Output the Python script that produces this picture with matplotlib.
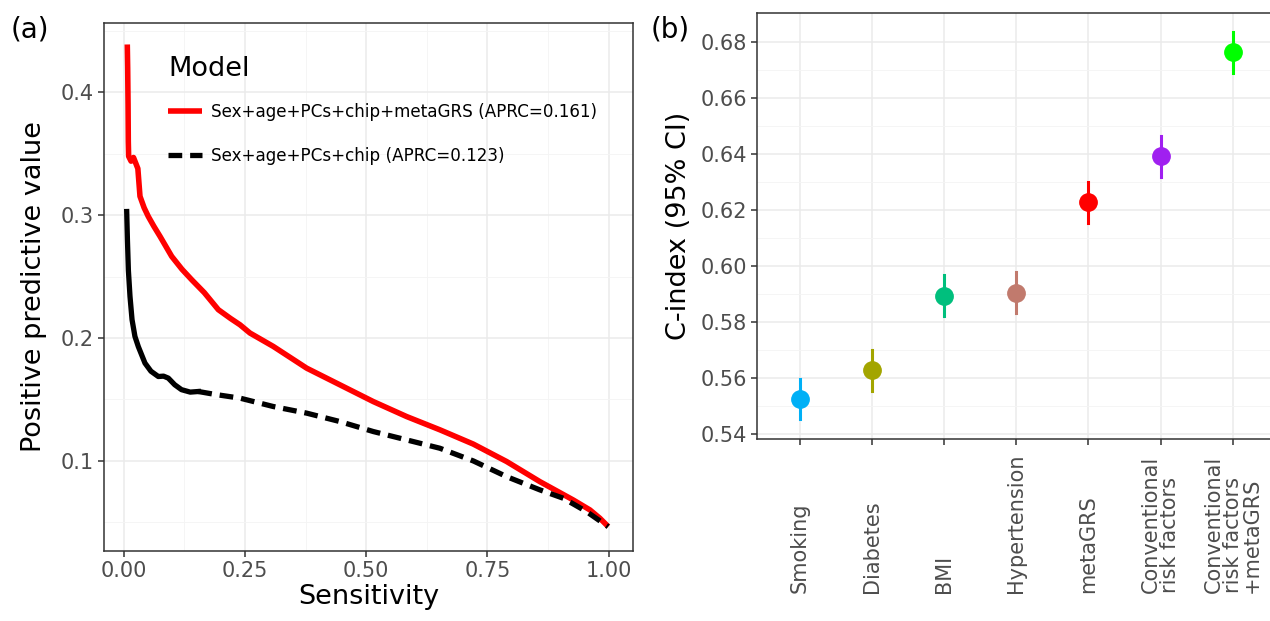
import numpy as np
import matplotlib
matplotlib.use("Agg")
import matplotlib.pyplot as plt
from matplotlib.transforms import blended_transform_factory

# (a) precision-recall curves
red_x = [0.0072, 0.0080, 0.0088, 0.0093, 0.0100, 0.0150, 0.0200, 0.0240, 0.0290,
         0.0334, 0.0420, 0.0505, 0.0620, 0.0747, 0.0988, 0.1200, 0.1400, 0.1660,
         0.1950, 0.2200, 0.2397, 0.2602, 0.3083, 0.3772, 0.4459, 0.5146, 0.5834,
         0.6520, 0.7208, 0.7896, 0.8583, 0.9270, 0.9614, 0.9820, 0.9992]
red_y = [0.4390, 0.4200, 0.3900, 0.3600, 0.3480, 0.3440, 0.3470, 0.3430, 0.3380,
         0.3154, 0.3060, 0.2990, 0.2910, 0.2828, 0.2665, 0.2560, 0.2475, 0.2370,
         0.2231, 0.2160, 0.2108, 0.2041, 0.1932, 0.1755, 0.1619, 0.1483, 0.1361,
         0.1253, 0.1137, 0.0995, 0.0831, 0.0682, 0.0601, 0.0533, 0.0465]
blk_x = [0.0060, 0.0075, 0.0095, 0.0128, 0.0170, 0.0230, 0.0300, 0.0437, 0.0560,
         0.0712, 0.0820, 0.0918, 0.1050, 0.1190, 0.1370, 0.1537, 0.1900, 0.2397,
         0.3080, 0.3770, 0.4460, 0.5146, 0.5834, 0.6520, 0.7208, 0.7896, 0.8583,
         0.9065, 0.9546, 0.9990]
blk_y = [0.3030, 0.2800, 0.2550, 0.2339, 0.2150, 0.2013, 0.1930, 0.1796, 0.1730,
         0.1687, 0.1690, 0.1674, 0.1620, 0.1580, 0.1560, 0.1565, 0.1540, 0.1511,
         0.1443, 0.1389, 0.1320, 0.1239, 0.1171, 0.1103, 0.1000, 0.0872, 0.0764,
         0.0696, 0.0587, 0.0465]
red_label = "Sex+age+PCs+chip+metaGRS (APRC=0.161)"
blk_label = "Sex+age+PCs+chip (APRC=0.123)"

# (b) C-index with 95% CI
models = ["Smoking", "Diabetes", "BMI", "Hypertension", "metaGRS",
          "Conventional\nrisk factors", "Conventional\nrisk factors\n+metaGRS"]
cidx = [0.5525, 0.5629, 0.5894, 0.5905, 0.6229, 0.6393, 0.6764]
ci_lo = [0.5454, 0.5555, 0.5822, 0.5831, 0.6156, 0.6319, 0.6690]
ci_hi = [0.5597, 0.5700, 0.5967, 0.5978, 0.6302, 0.6465, 0.6836]
colors = ["#00B0F6", "#A3A500", "#00BF7D", "#C17A6D", "#FF0000", "#A020F0", "#00FF00"]

plt.rcParams['font.family'] = ['DejaVu Sans']
tick_col = "#4D4D4D"
border = "#333333"
major_grid = "#EBEBEB"
minor_grid = "#F4F4F4"

fig = plt.figure(figsize=(12.7, 6.21), dpi=100)
ax1 = fig.add_axes([0.0819, 0.1132, 0.4165, 0.8502])
ax2 = fig.add_axes([0.5964, 0.2926, 0.4085, 0.6860])


def style_axes(ax):
    for s in ax.spines.values():
        s.set_color(border)
        s.set_linewidth(1.1)
    ax.tick_params(axis='both', which='major', colors=border, length=4, width=1.1,
                   labelcolor=tick_col, labelsize=15)
    ax.tick_params(axis='both', which='minor', length=0)
    ax.set_axisbelow(True)


# ---- panel (a)
ax1.plot(red_x, red_y, color="red", lw=4.0, solid_capstyle='butt', label=red_label)
# the noisy steep start of the black curve shows up as a solid stroke
n_solid = 16
ax1.plot(blk_x[:n_solid], blk_y[:n_solid], color="black", lw=3.8)
ax1.plot(blk_x[n_solid - 1:], blk_y[n_solid - 1:], color="black", lw=3.8,
         dashes=(2.6, 1.5), label=blk_label)
ax1.set_xlim(-0.0408, 1.0502)
ax1.set_ylim(0.0269, 0.4567)
ax1.set_xticks([0, 0.25, 0.5, 0.75, 1.0])
ax1.set_xticklabels(["0.00", "0.25", "0.50", "0.75", "1.00"])
ax1.set_xticks([0.125, 0.375, 0.625, 0.875], minor=True)
ax1.set_yticks([0.1, 0.2, 0.3, 0.4])
ax1.set_yticks([0.05, 0.15, 0.25, 0.35, 0.45], minor=True)
ax1.grid(which='major', color=major_grid, lw=1.1)
ax1.grid(which='minor', color=minor_grid, lw=0.6)
style_axes(ax1)
ax1.set_xlabel("Sensitivity", fontsize=19.5, labelpad=2)
ax1.set_ylabel("Positive predictive value", fontsize=19.5, labelpad=10)
leg = ax1.legend(title="Model", loc='upper left', bbox_to_anchor=(0.105, 0.952),
                 frameon=False, fontsize=12.1, title_fontsize=19.5, handlelength=2.0,
                 handletextpad=0.55, labelspacing=1.5, alignment='left', borderpad=0)
leg._legend_box.sep = 15
fig.text(0.008, 0.952, "(a)", fontsize=20, va='center')

# ---- panel (b)
pos = np.arange(len(models))
for i in range(len(models)):
    ax2.plot([pos[i], pos[i]], [ci_lo[i], ci_hi[i]], color=colors[i], lw=2.2)
    ax2.plot(pos[i], cidx[i], 'o', color=colors[i], ms=12.5)
ax2.set_xlim(-0.585, 6.6)
ax2.set_ylim(0.5381, 0.6904)
ax2.set_xticks(pos)
ax2.set_xticklabels([])
ax2.set_yticks([0.54, 0.56, 0.58, 0.60, 0.62, 0.64, 0.66, 0.68])
ax2.set_yticklabels(["%.2f" % v for v in [0.54, 0.56, 0.58, 0.60, 0.62, 0.64, 0.66, 0.68]])
ax2.set_yticks([0.55, 0.57, 0.59, 0.61, 0.63, 0.65, 0.67], minor=True)
ax2.grid(which='major', color=major_grid, lw=1.1)
ax2.yaxis.grid(which='minor', color=minor_grid, lw=0.6)
style_axes(ax2)
ax2.set_ylabel("C-index (95% CI)", fontsize=19.5, labelpad=6)
trans = blended_transform_factory(ax2.transData, fig.transFigure)
for i, m in enumerate(models):
    ax2.text(pos[i], 1 - 593 / 621, m, transform=trans, rotation=90, ha='center',
             va='bottom', multialignment='left', fontsize=15, color=tick_col,
             linespacing=0.95, clip_on=False)
fig.text(0.512, 0.952, "(b)", fontsize=20, va='center')

fig.savefig("out.png", dpi=100)
